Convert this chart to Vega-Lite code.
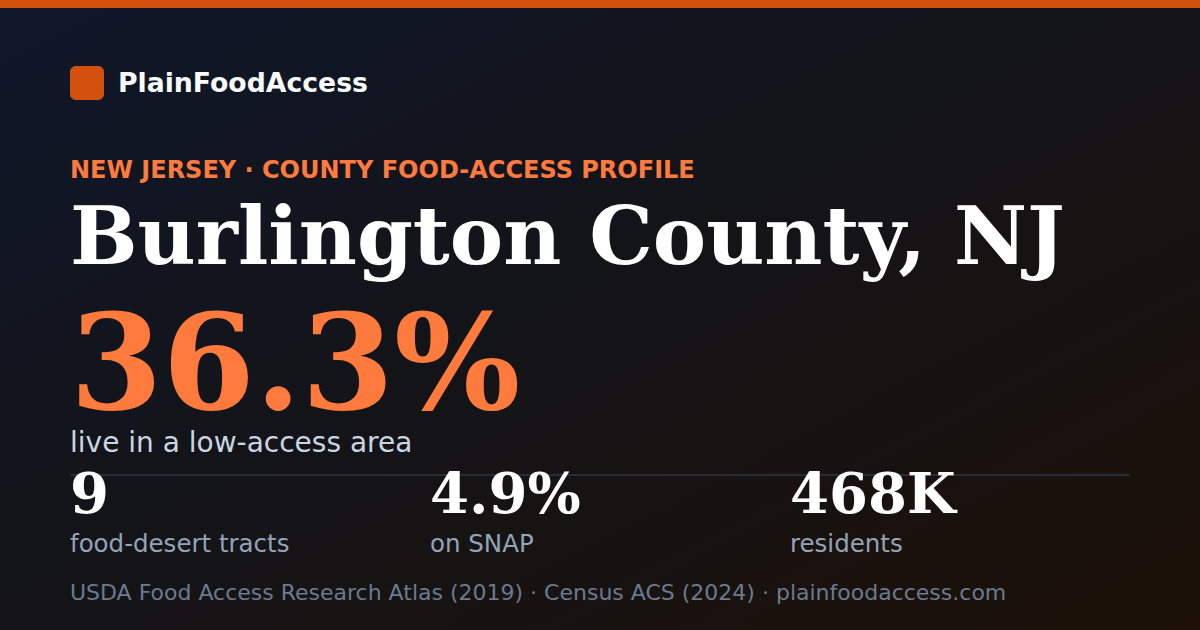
{
  "$schema": "https://vega.github.io/schema/vega-lite/v6.json",
  "width": 1200,
  "height": 630,
  "autosize": "none",
  "padding": 0,
  "config": {
    "view": {
      "stroke": null,
      "fill": {
        "gradient": "linear",
        "x1": 0, "y1": 0, "x2": 1, "y2": 1,
        "stops": [
          {"offset": 0, "color": "#0f172a"},
          {"offset": 0.5, "color": "#141417"},
          {"offset": 1, "color": "#1c1007"}
        ]
      }
    }
  },
  "datasets": {
    "card": [
      {"part": "brand", "text": "PlainFoodAccess"},
      {"part": "kicker", "text": "NEW JERSEY · COUNTY FOOD-ACCESS PROFILE"},
      {"part": "county", "text": "Burlington County, NJ"},
      {"part": "headline", "text": "36.3%"},
      {"part": "headline label", "text": "live in a low-access area"},
      {"part": "source", "text": "USDA Food Access Research Atlas (2019) · Census ACS (2024) · plainfoodaccess.com"}
    ],
    "stats": [
      {"metric": "food-desert tracts", "value": "9"},
      {"metric": "on SNAP", "value": "4.9%"},
      {"metric": "residents", "value": "468K"}
    ]
  },
  "layer": [
    {
      "data": {"values": [{}]},
      "mark": {"type": "rule", "color": "#d4500e", "strokeWidth": 8},
      "encoding": {"y": {"value": 4}}
    },
    {
      "data": {"values": [{}]},
      "mark": {
        "type": "point",
        "filled": true,
        "opacity": 1,
        "color": "#d4500e",
        "size": 1156,
        "shape": "M0.35,-1 H1.65 A0.35,0.35 0 0 1 2,-0.65 V0.65 A0.35,0.35 0 0 1 1.65,1 H0.35 A0.35,0.35 0 0 1 0,0.65 V-0.65 A0.35,0.35 0 0 1 0.35,-1 Z"
      },
      "encoding": {"x": {"value": 70}, "y": {"value": 83}}
    },
    {
      "data": {"name": "card"},
      "transform": [{"filter": "datum.part === 'brand'"}],
      "mark": {"type": "text", "font": "DejaVu Sans", "fontWeight": "bold", "fontSize": 26.7, "color": "#f8fafc", "align": "left", "baseline": "alphabetic"},
      "encoding": {"text": {"field": "text"}, "x": {"value": 118}, "y": {"value": 92}}
    },
    {
      "data": {"name": "card"},
      "transform": [{"filter": "datum.part === 'kicker'"}],
      "mark": {"type": "text", "font": "DejaVu Sans", "fontWeight": "bold", "fontSize": 24, "color": "#ff7a3d", "align": "left", "baseline": "alphabetic"},
      "encoding": {"text": {"field": "text"}, "x": {"value": 70}, "y": {"value": 178}}
    },
    {
      "data": {"name": "card"},
      "transform": [{"filter": "datum.part === 'county'"}],
      "mark": {"type": "text", "font": "DejaVu Serif", "fontWeight": "bold", "fontSize": 80, "color": "#ffffff", "align": "left", "baseline": "alphabetic"},
      "encoding": {"text": {"field": "text"}, "x": {"value": 70}, "y": {"value": 264}}
    },
    {
      "data": {"name": "card"},
      "transform": [{"filter": "datum.part === 'headline'"}],
      "mark": {"type": "text", "font": "DejaVu Serif", "fontWeight": "bold", "fontSize": 133, "color": "#ff7a3d", "align": "left", "baseline": "alphabetic"},
      "encoding": {"text": {"field": "text"}, "x": {"value": 70}, "y": {"value": 409}}
    },
    {
      "data": {"name": "card"},
      "transform": [{"filter": "datum.part === 'headline label'"}],
      "mark": {"type": "text", "font": "DejaVu Sans", "fontSize": 28, "color": "#cbd5e1", "align": "left", "baseline": "alphabetic"},
      "encoding": {"text": {"field": "text"}, "x": {"value": 70}, "y": {"value": 452}}
    },
    {
      "data": {"values": [{}]},
      "mark": {"type": "rule", "color": "#262c38", "strokeWidth": 2},
      "encoding": {"x": {"value": 70}, "x2": {"value": 1130}, "y": {"value": 475}}
    },
    {
      "data": {"name": "stats"},
      "mark": {"type": "text", "font": "DejaVu Serif", "fontWeight": "bold", "fontSize": 56, "color": "#ffffff", "align": "left", "baseline": "alphabetic"},
      "encoding": {
        "text": {"field": "value"},
        "x": {"field": "metric", "type": "nominal", "scale": {"type": "point", "domain": ["food-desert tracts", "on SNAP", "residents"], "range": [70, 790], "padding": 0}, "axis": null},
        "y": {"value": 513}
      }
    },
    {
      "data": {"name": "stats"},
      "mark": {"type": "text", "font": "DejaVu Sans", "fontSize": 24.5, "color": "#94a3b8", "align": "left", "baseline": "alphabetic"},
      "encoding": {
        "text": {"field": "metric"},
        "x": {"field": "metric", "type": "nominal", "axis": null},
        "y": {"value": 552}
      }
    },
    {
      "data": {"name": "card"},
      "transform": [{"filter": "datum.part === 'source'"}],
      "mark": {"type": "text", "font": "DejaVu Sans", "fontSize": 22, "color": "#6b7a90", "align": "left", "baseline": "alphabetic"},
      "encoding": {"text": {"field": "text"}, "x": {"value": 70}, "y": {"value": 600}}
    }
  ]
}
